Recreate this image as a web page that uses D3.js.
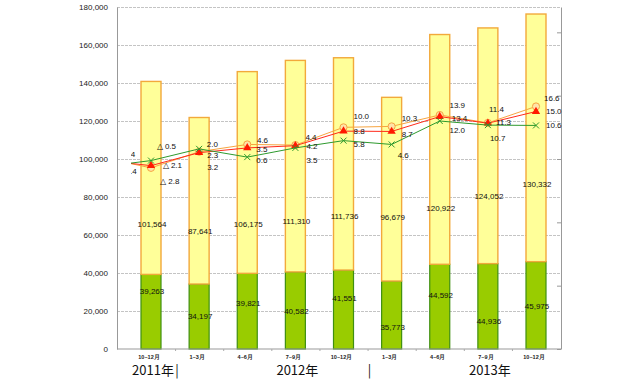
<!DOCTYPE html>
<html>
<head>
<meta charset="utf-8">
<script src="https://cdn.jsdelivr.net/npm/d3@7"></script>
<style>
  body { margin: 0; background: #fff; }
  svg { display: block; font-family: "Liberation Sans", Arial, sans-serif; }
</style>
</head>
<body>
<div id="graph"></div>
<script>
// Trimestres affichés
const quarters = ["10~12月", "1~3月", "4~6月", "7~9月", "10~12月", "1~3月", "4~6月", "7~9月", "10~12月"]
const yearLabels = ["2011年", "2012年", "2013年"]
const yearFirst = [0, 1, 6]
const yearLast = [0, 5, 8]

// Barres empilées (vert en bas, jaune au-dessus)
const greenValues = [39263, 34197, 39821, 40582, 41551, 35773, 44592, 44936, 45975]
const yellowValues = [101564, 87641, 106175, 111310, 111736, 96679, 120922, 124052, 130332]

// Taux (%) - le premier point (7~9月 2011) tombe hors du cadre
const orangeRates = [0.4, -2.8, 2.3, 4.6, 4.4, 10.0, 10.3, 13.9, 11.4, 16.6]
const redRates = [-0.4, -2.1, 2.0, 3.5, 4.2, 8.8, 8.7, 13.4, 11.3, 15.0]
const greenRates = [-2.4, -0.5, 3.2, 0.6, 3.5, 5.8, 4.6, 12.0, 10.7, 10.6]

// Graduations
const leftTicks = d3.range(0, 180001, 20000)
const rightTicks = d3.range(-60, 41, 20)

/* ------------------------------------------------------------------------------
    PLACEMENT DES ÉTIQUETTES (décalages en px, déplacées à la main dans l'original)
------------------------------------------------------------------------------ */
const orangeDx = [0, 9, 8, 9.7, 10, 10, 10, 9.7, 1, 8]
const orangeDy = [0, 13, 3.3, -4.4, -8, -11, -8, -9.3, -14, -8]
const redDx = [13, 11.7, 7.7, 9, 11, 10, 10, 12, 8, 10]
const redDy = [-6, 0, -8.7, 1, 0, 0, 3, 2, -1, 0]
const greenDx = [14.5, 5.7, 8, 9, 11, 10, 6, 9.7, 2, 10]
const greenDy = [4.4, -14, 18, 3, 12, 4, 11, 8.7, 13, 0]
const greenLabelDy = [-20.7, 0, -7.5, 0.6, -11.8, 12, -11, 14.4, 0.7]
const yellowLabelDy = [46.4, 30.9, 51.8, 54.6, 52.1, 28.1, 58.9, 50.9, 46.5]
const separators = [0.5, 4.5]

/* ------------------------------------------------------------------------------
    GRAPH
------------------------------------------------------------------------------ */
const width = 638, height = 380
const plot = { left: 117, right: 561, top: 7, bottom: 349 }

const svg = d3.select("#graph")
    .append("svg")
    .attr("width", width)
    .attr("height", height)

const x = d3.scaleLinear().domain([0, 8]).range([151, 536])
const y = d3.scaleLinear().domain([0, 180000]).range([plot.bottom, plot.top])
const y2 = d3.scaleLinear().domain([-60, 48]).range([plot.bottom, plot.top])

const fmtRate = v => v < 0 ? "△ " + Math.abs(v).toFixed(1) : v.toFixed(1)

// Grille horizontale
svg.append("g")
    .attr("transform", "translate(" + plot.left + ",0)")
    .call(d3.axisLeft(y).tickValues(leftTicks.filter(d => d > 0)).tickSize(-(plot.right - plot.left)).tickFormat(""))
    .call(g => g.select(".domain").remove())
    .call(g => g.selectAll(".tick line").attr("stroke", "#c4c4c4").attr("stroke-dasharray", "3,1"))

/* ------------------------------------------------------------------------------
    BARRES
------------------------------------------------------------------------------ */
svg.append("g").selectAll("rect")
    .data(greenValues)
    .join("rect")
    .attr("x", (d, i) => x(i) - 10)
    .attr("width", 20)
    .attr("y", d => y(d))
    .attr("height", d => y(0) - y(d))
    .attr("fill", "#99cc00")
    .attr("stroke", "#3f8f10")
    .attr("stroke-width", 1.2)

svg.append("g").selectAll("rect")
    .data(yellowValues)
    .join("rect")
    .attr("x", (d, i) => x(i) - 10)
    .attr("width", 20)
    .attr("y", (d, i) => y(d + greenValues[i]))
    .attr("height", (d, i) => y(greenValues[i]) - y(d + greenValues[i]))
    .attr("fill", "#ffff99")
    .attr("stroke", "#f2a93b")
    .attr("stroke-width", 1.4)

// Étiquettes des barres
const barLabels = svg.append("g")
    .attr("font-size", 8)
    .attr("fill", "#111")
    .attr("text-anchor", "middle")

barLabels.selectAll("text.green")
    .data(greenValues)
    .join("text")
    .attr("class", "green")
    .attr("x", (d, i) => x(i) + 1)
    .attr("y", (d, i) => y(d / 2) + greenLabelDy[i])
    .attr("dy", "0.35em")
    .text(d => d3.format(",")(d))

barLabels.selectAll("text.yellow")
    .data(yellowValues)
    .join("text")
    .attr("class", "yellow")
    .attr("x", (d, i) => x(i) + 1)
    .attr("y", (d, i) => y(greenValues[i] + d / 2) + yellowLabelDy[i])
    .attr("dy", "0.35em")
    .text(d => d3.format(",")(d))

/* ------------------------------------------------------------------------------
    AXES
------------------------------------------------------------------------------ */
// Axe Y gauche
svg.append("g")
    .attr("transform", "translate(" + plot.left + ",0)")
    .call(d3.axisLeft(y).tickValues(leftTicks).tickSize(0).tickSizeOuter(0).tickPadding(9).tickFormat(d3.format(",")))
    .call(g => g.select(".domain").attr("stroke", "#999"))
    .call(g => g.selectAll("text").attr("font-size", 8).attr("fill", "#222").attr("font-family", "Liberation Sans, Arial, sans-serif"))

// Axe Y droit (taux), sans étiquettes
svg.append("g")
    .attr("transform", "translate(" + plot.right + ",0)")
    .call(d3.axisLeft(y2).tickValues(rightTicks).tickSize(4).tickSizeOuter(0).tickFormat(""))
    .call(g => g.select(".domain").attr("stroke", "#999"))
    .call(g => g.selectAll(".tick line").attr("stroke", "#999"))

// Axe X
svg.append("line")
    .attr("x1", plot.left)
    .attr("x2", plot.right)
    .attr("y1", plot.bottom)
    .attr("y2", plot.bottom)
    .attr("stroke", "#999")

svg.append("g")
    .attr("transform", "translate(0," + plot.bottom + ")")
    .call(d3.axisBottom(x).tickValues(d3.range(0.5, 8, 1)).tickSize(2).tickFormat(""))
    .call(g => g.select(".domain").remove())
    .call(g => g.selectAll(".tick line").attr("stroke", "#aaa"))

svg.append("g").selectAll("text")
    .data(quarters)
    .join("text")
    .attr("x", (d, i) => x(i) - 2)
    .attr("y", 357)
    .attr("dy", "0.35em")
    .attr("text-anchor", "middle")
    .attr("font-size", 5.5)
    .attr("font-weight", "bold")
    .attr("fill", "#222")
    .text(d => d)

// Années
const yearFont = "'Noto Sans CJK JP', 'DejaVu Sans', sans-serif"
svg.append("g").selectAll("text")
    .data(yearLabels)
    .join("text")
    .attr("x", (d, i) => (x(yearFirst[i]) + x(yearLast[i])) / 2 + 2)
    .attr("y", 370)
    .attr("dy", "0.35em")
    .attr("text-anchor", "middle")
    .attr("font-family", yearFont)
    .attr("font-size", 13)
    .attr("fill", "#111")
    .text(d => d)

svg.append("g").selectAll("text")
    .data(separators)
    .join("text")
    .attr("x", d => x(d) + 2)
    .attr("y", 370)
    .attr("dy", "0.35em")
    .attr("text-anchor", "middle")
    .attr("font-family", yearFont)
    .attr("font-size", 13)
    .attr("fill", "#111")
    .text("|")

/* ------------------------------------------------------------------------------
    COURBES DES TAUX
------------------------------------------------------------------------------ */
svg.append("clipPath")
    .attr("id", "clipLines")
    .append("rect")
    .attr("x", 131)
    .attr("y", 0)
    .attr("width", plot.right - 131)
    .attr("height", plot.bottom)

// Les étiquettes peuvent déborder à droite du cadre
svg.append("clipPath")
    .attr("id", "clipLabels")
    .append("rect")
    .attr("x", 131)
    .attr("y", 0)
    .attr("width", width - 131)
    .attr("height", plot.bottom)

const lines = svg.append("g").attr("clip-path", "url(#clipLines)")

const lineGen = d3.line()
    .x((d, i) => x(i - 1))
    .y(d => y2(d))

const series = [
    { rates: orangeRates, color: "#f7a541", dx: orangeDx, dy: orangeDy, marker: "circle" },
    { rates: redRates, color: "#ff2a1a", dx: redDx, dy: redDy, marker: "triangle" },
    { rates: greenRates, color: "#2e9a2e", dx: greenDx, dy: greenDy, marker: "cross" }
]

series.forEach(s => {
    lines.append("path")
        .datum(s.rates)
        .attr("d", lineGen)
        .attr("fill", "none")
        .attr("stroke", s.color)
        .attr("stroke-width", 1)

    const m = lines.append("g").selectAll("path")
        .data(s.rates)
        .join("path")
        .attr("transform", (d, i) => "translate(" + x(i - 1) + "," + y2(d) + ")")

    if (s.marker === "circle") {
        m.attr("d", d3.symbol(d3.symbolCircle, 40))
            .attr("fill", "#ffe3a8")
            .attr("stroke", s.color)
            .attr("stroke-width", 1)
    } else if (s.marker === "triangle") {
        m.attr("d", d3.symbol(d3.symbolTriangle, 30))
            .attr("fill", "#ff1a00")
    } else {
        m.attr("d", "M-3,-3L3,3M-3,3L3,-3")
            .attr("fill", "none")
            .attr("stroke", s.color)
            .attr("stroke-width", 1)
    }
})

// Étiquettes des taux (celles qui commencent hors du cadre ne sont pas dessinées)
const rateLabels = svg.append("g")
    .attr("clip-path", "url(#clipLabels)")
    .attr("font-size", 8)
    .attr("fill", "#111")

series.forEach(s => {
    const items = s.rates
        .map((v, i) => ({ v: v, lx: x(i - 1) + s.dx[i], ly: y2(v) + s.dy[i] }))
        .filter(d => d.lx > 110)

    rateLabels.append("g").selectAll("text")
        .data(items)
        .join("text")
        .attr("x", d => d.lx)
        .attr("y", d => d.ly)
        .attr("dy", "0.35em")
        .text(d => fmtRate(d.v))
})
</script>
</body>
</html>
